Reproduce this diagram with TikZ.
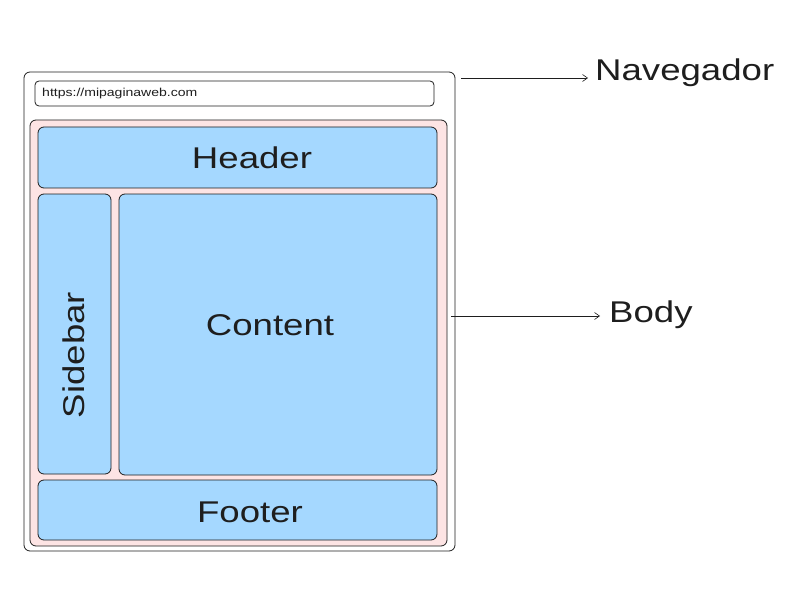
\documentclass[tikz,border=0pt]{standalone}
\usepackage{fontspec}
\setmainfont{Liberation Sans}
\newfontfamily\handfont[FakeStretch=1.22]{Liberation Sans}
\usetikzlibrary{arrows.meta}
\definecolor{ink}{HTML}{1E1E1E}
\definecolor{boxblue}{HTML}{A5D8FF}
\definecolor{bodypink}{HTML}{FDE4E4}
\begin{document}
\begin{tikzpicture}[x=1pt,y=-1pt,
  frame/.style={draw=ink, line width=0.8pt, rounded corners=6pt},
  part/.style={draw=ink, line width=0.8pt, rounded corners=6pt, fill=boxblue},
  big/.style={font=\handfont\fontsize{30}{34}\selectfont, text=ink, inner sep=0pt},
  lbl/.style={-{Straight Barb[length=5pt,width=7pt]}, draw=ink, line width=0.6pt}]
\useasboundingbox (0,0) rectangle (797,604);
% browser
\draw[frame, fill=white] (24,72) rectangle (455,551);
\coordinate (browserE) at (461,78);
\draw[frame, rounded corners=4pt] (35,81) rectangle (434,106);
\node[anchor=west, font=\handfont\fontsize{11.5}{13}\selectfont, text=ink, inner sep=0pt] (url) at (42,93.5) {https://mipaginaweb.com};
% body
\draw[frame, fill=bodypink] (30,120) rectangle (447,546);
\coordinate (bodyE) at (451,316);
% parts
\draw[part] (38,127) rectangle (437,188);
\node[big] (header) at (252,158) {Header};
\draw[part] (38,194) rectangle (111,474);
\node[big, rotate=90] (sidebar) at (74,355) {Sidebar};
\draw[part] (119,194) rectangle (437,475);
\node[big] (content) at (270,325) {Content};
\draw[part] (38,480) rectangle (437,540);
\node[big] (footer) at (250,512) {Footer};
% labels
\node[big, anchor=west] (nav) at (595,73) {Navegador};
\node[big, anchor=west] (body) at (609,315) {Body};
\draw[lbl] (browserE) -- (588,78);
\draw[lbl] (bodyE) -- (600,316);
\end{tikzpicture}
\end{document}
